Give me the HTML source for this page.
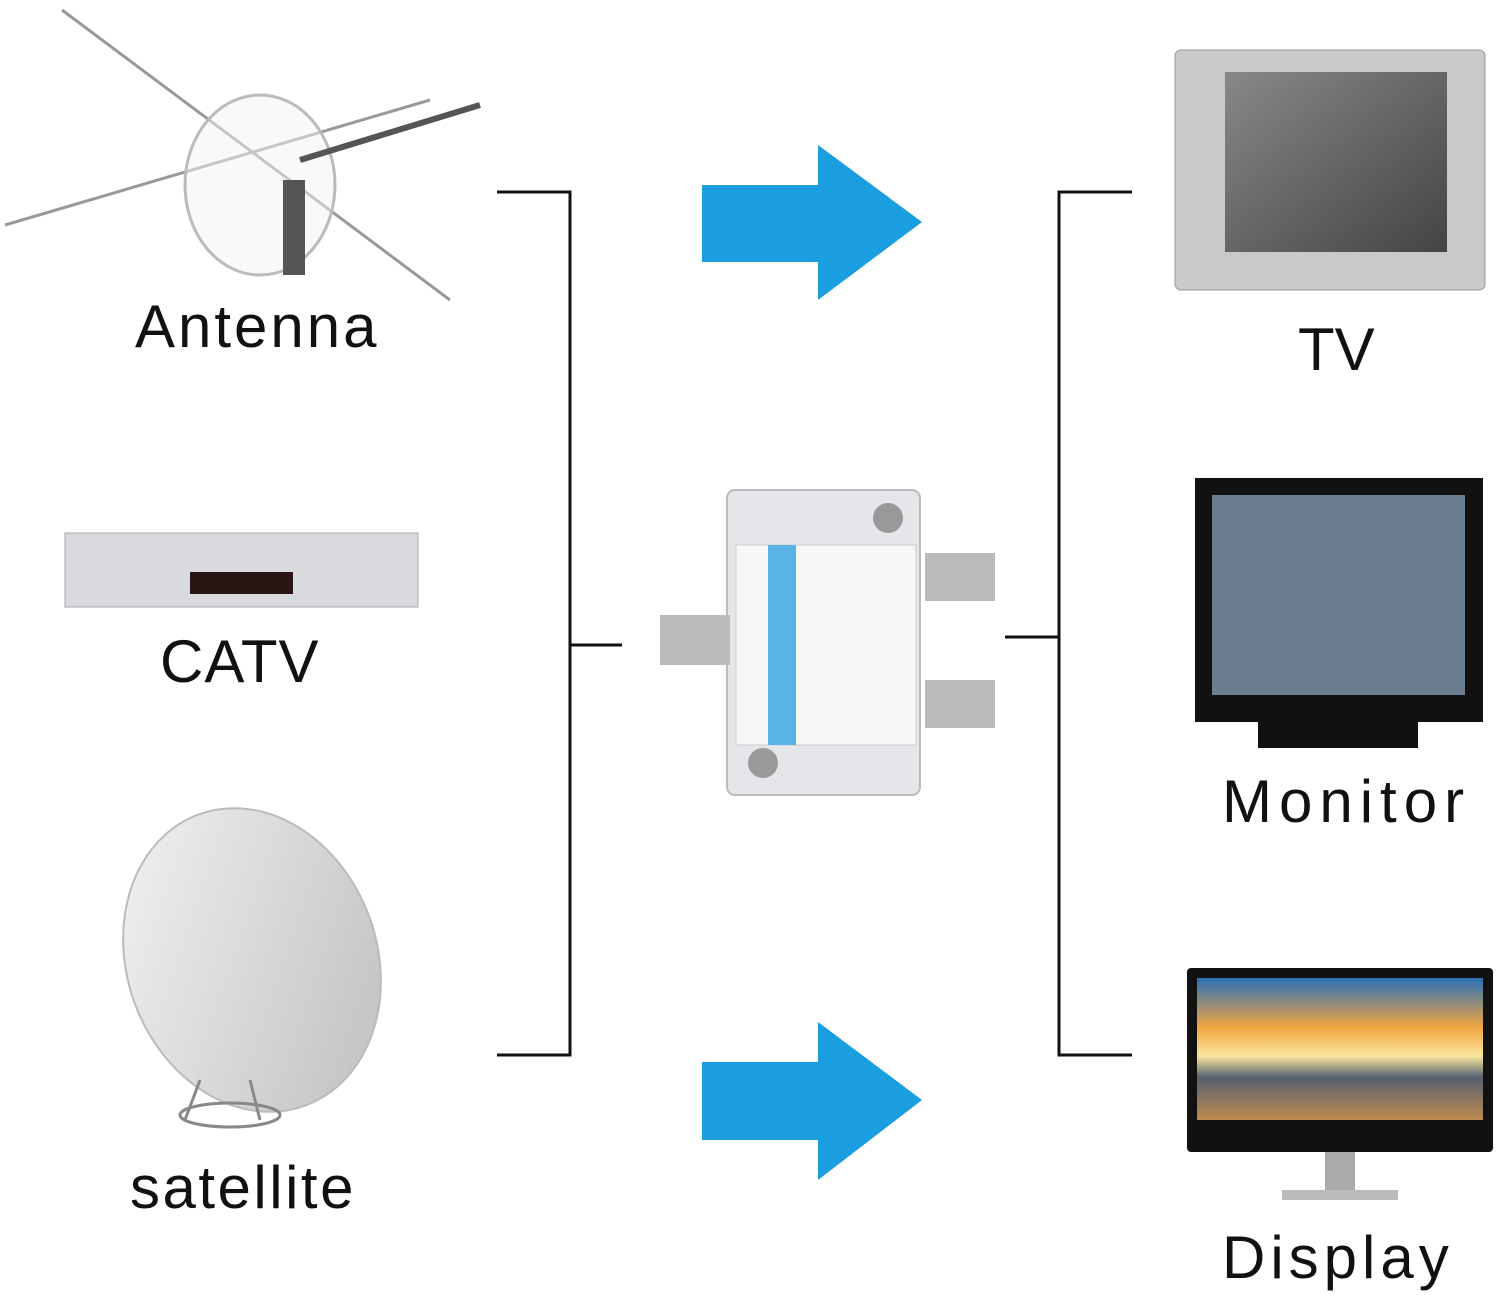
<!DOCTYPE html>
<html><head><meta charset="utf-8"><style>
html,body{margin:0;padding:0;background:#fff}
body{width:1500px;height:1301px;position:relative;overflow:hidden;font-family:"Liberation Sans",sans-serif}
.t{position:absolute;font-size:60px;color:#111;line-height:1;white-space:nowrap}
</style></head><body>
<svg width="1500" height="1301" style="position:absolute;left:0;top:0">
<defs>
<linearGradient id="sky" x1="0" y1="0" x2="0" y2="1">
<stop offset="0" stop-color="#2a70b8"/><stop offset="0.35" stop-color="#f2a640"/><stop offset="0.55" stop-color="#fbe7a0"/><stop offset="0.7" stop-color="#556070"/><stop offset="1" stop-color="#c08a50"/></linearGradient>
<linearGradient id="tvs" x1="0" y1="0" x2="1" y2="1"><stop offset="0" stop-color="#888"/><stop offset="1" stop-color="#444"/></linearGradient>
<linearGradient id="dish" x1="0" y1="0" x2="1" y2="1"><stop offset="0" stop-color="#f4f4f4"/><stop offset="1" stop-color="#bdbdbd"/></linearGradient>
</defs>
<g stroke="#111" stroke-width="3" fill="none">
<path d="M497 192H570V1055H497M570 645H622"/>
<path d="M1132 192H1059V1055H1132M1059 637H1005"/>
</g>
<g fill="#1a9ee0">
<rect x="702" y="185" width="118" height="77"/><polygon points="818,145 922,222 818,300"/>
<rect x="702" y="1062" width="118" height="78"/><polygon points="818,1022 922,1100 818,1180"/>
</g>
<g stroke="#999" stroke-width="3" fill="none">
<line x1="62" y1="10" x2="450" y2="300"/>
<line x1="5" y1="225" x2="430" y2="100"/>
<ellipse cx="260" cy="185" rx="75" ry="90" stroke="#bbb" fill="#f4f4f4" fill-opacity="0.5"/>
<line x1="300" y1="160" x2="480" y2="105" stroke="#555" stroke-width="6"/>
</g>
<rect x="283" y="180" width="22" height="95" fill="#555"/>
<rect x="65" y="533" width="353" height="74" fill="#d8dade" stroke="#aaa"/>
<rect x="190" y="572" width="103" height="22" fill="#2a1414"/>
<ellipse cx="252" cy="960" rx="125" ry="155" transform="rotate(-20 252 960)" fill="url(#dish)" stroke="#bbb" stroke-width="2"/>
<path d="M200 1080L185 1120M250 1080L260 1120" stroke="#888" stroke-width="3"/>
<ellipse cx="230" cy="1115" rx="50" ry="12" fill="none" stroke="#888" stroke-width="3"/>
<rect x="727" y="490" width="193" height="305" rx="8" fill="#e4e6ea" stroke="#bbb" stroke-width="2"/>
<rect x="736" y="545" width="180" height="200" fill="#f7f7f8" stroke="#ccc"/>
<rect x="768" y="545" width="28" height="200" fill="#5ab3e6"/>
<rect x="660" y="615" width="70" height="50" fill="#bbb"/>
<rect x="925" y="553" width="70" height="48" fill="#bbb"/>
<rect x="925" y="680" width="70" height="48" fill="#bbb"/>
<circle cx="888" cy="518" r="15" fill="#999"/><circle cx="763" cy="763" r="15" fill="#999"/>
<rect x="1175" y="50" width="310" height="240" rx="6" fill="#c9c9c9" stroke="#999"/>
<rect x="1225" y="72" width="222" height="180" fill="url(#tvs)"/>
<rect x="1195" y="478" width="288" height="244" fill="#111"/>
<rect x="1212" y="495" width="253" height="200" fill="#6a7e90"/>
<rect x="1258" y="715" width="160" height="33" fill="#111"/>
<rect x="1187" y="968" width="306" height="184" rx="4" fill="#111"/>
<rect x="1197" y="978" width="286" height="142" fill="url(#sky)"/>
<rect x="1325" y="1152" width="30" height="40" fill="#aaa"/>
<rect x="1282" y="1190" width="116" height="10" fill="#bbb"/>
</svg>
<div class="t" style="left:135px;top:297px;letter-spacing:3px">Antenna</div>
<div class="t" style="left:160px;top:632px;letter-spacing:1px">CATV</div>
<div class="t" style="left:130px;top:1158px;letter-spacing:2.5px">satellite</div>
<div class="t" style="left:1298px;top:320px">TV</div>
<div class="t" style="left:1222px;top:772px;letter-spacing:7px">Monitor</div>
<div class="t" style="left:1222px;top:1228px;letter-spacing:5px">Display</div>
</body></html>
